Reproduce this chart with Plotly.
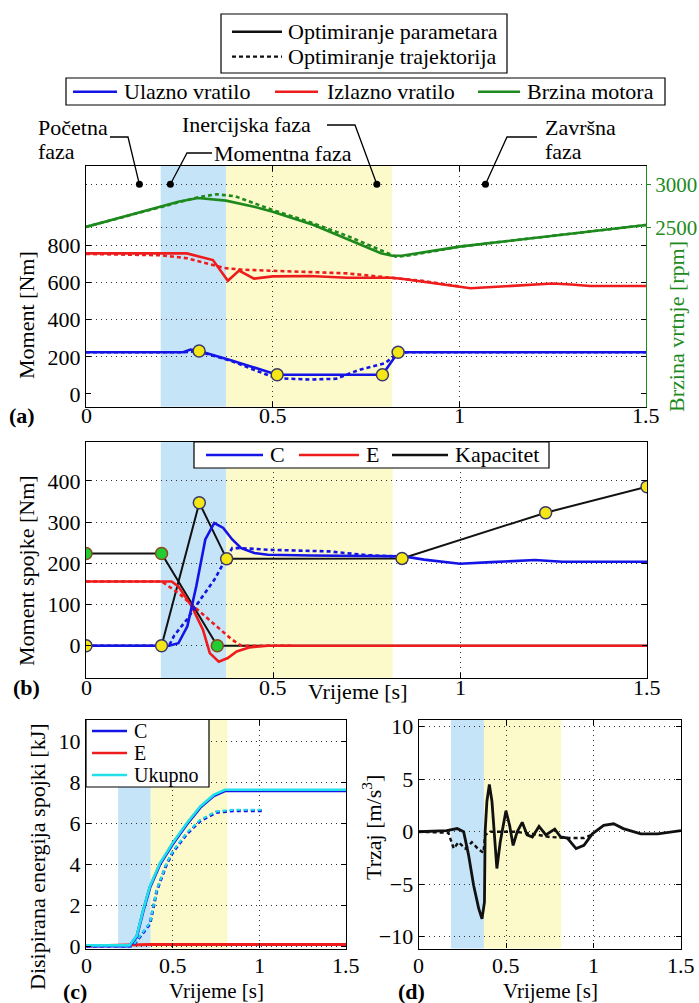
import plotly.graph_objects as go

W, H = 699, 1003
FONT = "Liberation Serif, Times New Roman, DejaVu Serif, serif"
BLUE = "#1414e6"
RED = "#ee1c1c"
GREEN = "#1e8a1e"
CYAN = "#22e0ea"
BLACK = "#111111"
SHADE_BLUE = "rgb(198,228,248)"
SHADE_YEL = "rgb(252,250,202)"
YEL_M = "#f5e616"
GREEN_M = "#22cc33"

# ---------------- data ----------------
x_ticks = [0, 0.5, 1, 1.5]
x_ticktext = ["0", "0.5", "1", "1.5"]
phase_ab = [0.2, 0.375, 0.82]
phase_cd = [0.185, 0.373, 0.815]

# (a) torques [Nm] and engine speed [rpm]
a_blue_t = [0, 0.26, 0.28, 0.303, 0.39, 0.512, 0.6, 0.7, 0.794, 0.836, 1.5]
a_blue_solid = [225, 225, 240, 232, 181, 104, 104, 104, 104, 225, 225]
a_blue_dash_t = [0, 0.26, 0.3, 0.39, 0.45, 0.51, 0.6, 0.67, 0.73, 0.8, 0.83, 0.86, 1.5]
a_blue_dash = [225, 225, 230, 178, 130, 85, 78, 82, 129, 165, 210, 225, 225]
a_red_t = [0, 0.27, 0.34, 0.38, 0.41, 0.45, 0.5, 0.6, 0.7, 0.82, 0.85, 0.95, 1.0, 1.03, 1.1, 1.2, 1.25, 1.3, 1.35, 1.5]
a_red_solid = [758, 758, 722, 610, 665, 622, 634, 636, 627, 627, 620, 590, 578, 570, 578, 591, 596, 590, 582, 582]
a_red_dash_t = [0, 0.2, 0.27, 0.37, 0.42, 0.5, 0.6, 0.7, 0.8, 0.9, 1.0]
a_red_dash = [755, 748, 732, 679, 670, 665, 660, 650, 630, 610, 580]
a_green_t = [0, 0.2, 0.25, 0.3, 0.375, 0.45, 0.5, 0.61, 0.73, 0.79, 0.82, 0.85, 1.0, 1.25, 1.5]
a_green_solid = [2505, 2740, 2800, 2840, 2810, 2740, 2681, 2527, 2314, 2198, 2170, 2172, 2275, 2400, 2527]
a_green_dash_t = [0, 0.2, 0.3, 0.35, 0.4, 0.5, 0.6, 0.7, 0.8, 0.83, 0.87, 1.0, 1.5]
a_green_dash = [2505, 2740, 2850, 2884, 2860, 2701, 2560, 2400, 2220, 2158, 2175, 2275, 2527]
a_marker_t = [0.303, 0.512, 0.794, 0.836]
a_marker_v = [232, 104, 104, 225]
phase_dot_t = [0.143, 0.226, 0.779, 1.07]
phase_dot_rpm = [3000, 3000, 3000, 3000]

# (b) clutch torques [Nm]
b_kapC_t = [0, 0.202, 0.303, 0.376, 0.845, 1.229, 1.5]
b_kapC = [0, 0, 347, 211, 212, 323, 386]
b_kapE_t = [0, 0.202, 0.351, 1.5]
b_kapE = [224, 224, 0, 0]
b_C_t = [0, 0.222, 0.247, 0.271, 0.295, 0.319, 0.343, 0.367, 0.391, 0.415, 0.45, 0.486, 0.6, 0.7, 0.85, 0.904, 1.0, 1.084, 1.2, 1.274, 1.5]
b_C_solid = [0, 0, 6, 47, 145, 258, 298, 286, 258, 237, 225, 221, 219, 218, 217, 209, 199, 203, 208, 204, 204]
b_C_dash_t = [0, 0.222, 0.236, 0.271, 0.307, 0.343, 0.373, 0.391, 0.415, 0.486, 0.65, 0.75, 0.85]
b_C_dash = [0, 0, 25, 65, 114, 160, 209, 237, 237, 233, 229, 220, 216]
b_E_t = [0, 0.229, 0.247, 0.283, 0.313, 0.331, 0.355, 0.379, 0.403, 0.438, 0.486, 1.5]
b_E_solid = [156, 156, 144, 95, 38, -18, -39, -30, -14, -4, 0, 0]
b_E_dash_t = [0, 0.202, 0.247, 0.307, 0.367, 0.39, 0.415, 0.55]
b_E_dash = [156, 156, 128, 80, 31, 15, 0, 0]

# (c) dissipated energy [kJ]
c_t = [0, 0.25, 0.292, 0.33, 0.369, 0.427, 0.5, 0.58, 0.658, 0.735, 0.8, 1.5]
c_C_solid = [0.03, 0.03, 0.48, 1.75, 2.9, 4.02, 5.0, 5.95, 6.77, 7.33, 7.58, 7.58]
c_U_solid = [0.06, 0.06, 0.52, 1.8, 2.95, 4.08, 5.05, 6.0, 6.82, 7.38, 7.63, 7.63]
c_dash_t = [0, 0.27, 0.369, 0.408, 0.465, 0.5, 0.58, 0.658, 0.75, 0.85, 1.02]
c_C_dash = [0.03, 0.03, 1.12, 2.73, 4.03, 4.59, 5.48, 6.12, 6.53, 6.61, 6.61]
c_U_dash = [0.06, 0.06, 1.17, 2.78, 4.08, 4.64, 5.53, 6.17, 6.58, 6.66, 6.66]
c_E_t = [0, 0.2, 0.3, 0.37, 1.5]
c_E_solid = [0.03, 0.06, 0.08, 0.1, 0.1]

# (d) jerk [m/s^3]
d_t = [0, 0.16, 0.22, 0.257, 0.285, 0.314, 0.343, 0.362, 0.376, 0.38, 0.39, 0.404, 0.419, 0.434, 0.447,
       0.466, 0.482, 0.499, 0.52, 0.54, 0.563, 0.592, 0.62, 0.65, 0.688, 0.727, 0.778, 0.812, 0.85, 0.9,
       0.945, 0.993, 1.058, 1.115, 1.17, 1.27, 1.367, 1.5]
d_solid = [0, 0.1, 0.3, 0, -2.2, -5.1, -7.3, -8.3, -6.7, 0, 2.9, 4.5, 2.9, -0.6, -3.5,
           -1.0, 0.6, 2.0, 0.6, -1.3, 0, 0.9, -0.3, -0.5, 0.5, -0.3, 0.25, -0.5, -0.6, -1.6,
           -1.3, -0.2, 0.6, 0.76, 0.3, -0.2, -0.2, 0.1]
d_dash_t = [0, 0.17, 0.2, 0.228, 0.266, 0.304, 0.343, 0.37, 0.38, 0.41, 0.55, 0.65, 0.75, 0.85, 0.945, 1.0]
d_dash = [0, -0.1, -1.6, -1.0, -1.6, -1.0, -1.7, -2.0, -0.3, 0, 0, -0.2, -0.5, -0.6, -0.6, -0.2]


def px(x):
    return x / W


def py(y):
    return 1 - y / H


fig = go.Figure()


def line(x, y, color, xa, ya, dash="solid", width=2.6):
    fig.add_trace(go.Scatter(x=x, y=y, mode="lines", xaxis=xa, yaxis=ya, showlegend=False,
                             line=dict(color=color, width=width, dash=dash), hoverinfo="skip"))


def markers(x, y, fill, edge, xa, ya, size=12):
    fig.add_trace(go.Scatter(x=x, y=y, mode="markers", xaxis=xa, yaxis=ya, showlegend=False,
                             marker=dict(color=fill, size=size, line=dict(color=edge, width=1.5)),
                             hoverinfo="skip"))


DASH = "4px,3px"
# (a)
line(a_red_dash_t, a_red_dash, RED, "x", "y", DASH)
line(a_red_t, a_red_solid, RED, "x", "y")
line(a_blue_dash_t, a_blue_dash, BLUE, "x", "y", DASH)
line(a_blue_t, a_blue_solid, BLUE, "x", "y")
markers(a_marker_t, a_marker_v, YEL_M, "#3a3a6a", "x", "y")
line(a_green_dash_t, a_green_dash, GREEN, "x", "y2", DASH)
line(a_green_t, a_green_solid, GREEN, "x", "y2")
fig.add_trace(go.Scatter(x=phase_dot_t, y=phase_dot_rpm, mode="markers", xaxis="x", yaxis="y2",
                         showlegend=False, marker=dict(color="black", size=7), hoverinfo="skip"))

# (b)
line(b_kapE_t, b_kapE, BLACK, "x2", "y3", width=2)
line(b_kapC_t, b_kapC, BLACK, "x2", "y3", width=2)
line(b_E_dash_t, b_E_dash, RED, "x2", "y3", DASH)
line(b_E_t, b_E_solid, RED, "x2", "y3")
line(b_C_dash_t, b_C_dash, BLUE, "x2", "y3", DASH)
line(b_C_t, b_C_solid, BLUE, "x2", "y3")
markers(b_kapC_t, b_kapC, YEL_M, "#3a3a6a", "x2", "y3")
markers(b_kapE_t[:3], b_kapE[:3], GREEN_M, "#8a4a1a", "x2", "y3")

# (c)
line(c_E_t, c_E_solid, RED, "x3", "y4", width=3)
line(c_dash_t, c_C_dash, BLUE, "x3", "y4", DASH, width=3)
line(c_dash_t, c_U_dash, CYAN, "x3", "y4", DASH, width=2.2)
line(c_t, c_C_solid, BLUE, "x3", "y4", width=3)
line(c_t, c_U_solid, CYAN, "x3", "y4", width=2.6)

# (d)
line(d_dash_t, d_dash, BLACK, "x4", "y5", DASH, width=2.4)
line(d_t, d_solid, BLACK, "x4", "y5", width=2.8)

# ---------------- axes ----------------
TICKFONT = dict(family=FONT, size=22, color="black")


def ax(**kw):
    base = dict(showline=True, linecolor="black", linewidth=1.2, mirror="ticks", ticks="inside",
                ticklen=5, tickcolor="black", showgrid=True, gridcolor="#333333",
                griddash="1px,4px", gridwidth=1, zeroline=False, tickfont=TICKFONT)
    base.update(kw)
    return base


a_x = [px(86), px(646)]
a_y = [py(406.7), py(166)]
b_x = [px(86), px(647)]
b_y = [py(678), py(441.7)]
c_x = [px(86), px(346.4)]
c_y = [py(948.5), py(719.5)]
d_x = [px(418.7), px(681)]
d_y = c_y

# x tick labels are written as annotations (placed on the x axes) to sit tight under the frame
xt = dict(tickmode="array", tickvals=x_ticks, range=[0, 1.5], showticklabels=False)

fig.update_layout(
    xaxis=ax(domain=a_x, anchor="y", **xt),
    yaxis=ax(domain=a_y, anchor="x", range=[-68.5, 1229], tickmode="array",
             tickvals=[0, 200, 400, 600, 800], showgrid=False,
             minor=dict(tickmode="array", tickvals=[200, 400, 600, 800], showgrid=True,
                        gridcolor="#333333", griddash="1px,4px", gridwidth=1, ticks="")),
    yaxis2=dict(domain=a_y, anchor="x", overlaying="y", side="right", range=[414, 3213],
                tickmode="array", tickvals=[2500, 3000], ticks="outside", ticklen=4,
                tickcolor=GREEN, showline=True, linecolor=GREEN, linewidth=1.2,
                showgrid=True, gridcolor="#333333", griddash="1px,4px", gridwidth=1,
                zeroline=False, automargin=False,
                tickfont=dict(family=FONT, size=21, color=GREEN)),
    xaxis2=ax(domain=b_x, anchor="y3", **xt),
    yaxis3=ax(domain=b_y, anchor="x2", range=[-78.4, 495.4], tickmode="array",
              tickvals=[0, 100, 200, 300, 400]),
    xaxis3=ax(domain=c_x, anchor="y4", **xt),
    yaxis4=ax(domain=c_y, anchor="x3", range=[-0.09, 11.05], tickmode="array",
              tickvals=[0, 2, 4, 6, 8, 10]),
    xaxis4=ax(domain=d_x, anchor="y5", **xt),
    yaxis5=ax(domain=d_y, anchor="x4", range=[-11.12, 10.69], tickmode="array",
              tickvals=[-10, -5, 0, 5, 10]),
)

# ---------------- shapes ----------------
shapes = []
for xa, ya, ph in [("x", "y", phase_ab), ("x2", "y3", phase_ab), ("x3", "y4", phase_cd), ("x4", "y5", phase_cd)]:
    shapes.append(dict(type="rect", xref=xa, yref=ya + " domain", x0=ph[0], x1=ph[1], y0=0, y1=1,
                       fillcolor=SHADE_BLUE, line=dict(width=0), layer="below"))
    shapes.append(dict(type="rect", xref=xa, yref=ya + " domain", x0=ph[1], x1=ph[2], y0=0, y1=1,
                       fillcolor=SHADE_YEL, line=dict(width=0), layer="below"))


def seg_path(pts):
    return "M " + " L ".join(f"{px(x):.5f},{py(y):.5f}" for x, y in pts)


# phase leader lines (text -> dot)
dot_px = [86 + t * (646 - 86) / 1.5 for t in phase_dot_t]
dot_py = 184.3
leaders = [
    [(110, 137), (128, 137), (dot_px[0], dot_py)],
    [(212, 153), (187, 153), (dot_px[1], dot_py)],
    [(327, 125), (355, 125), (dot_px[2], dot_py)],
    [(537, 137), (507, 137), (dot_px[3], dot_py)],
]
for pts in leaders:
    shapes.append(dict(type="path", xref="paper", yref="paper", path=seg_path(pts),
                       line=dict(color="black", width=1.3)))


def box(x0, y0, x1, y1):
    shapes.append(dict(type="rect", xref="paper", yref="paper", x0=px(x0), x1=px(x1),
                       y0=py(y1), y1=py(y0), fillcolor="white", line=dict(color="black", width=1.2)))


def sample(x0, x1, y, color, dash="solid", width=2.6):
    shapes.append(dict(type="line", xref="paper", yref="paper", x0=px(x0), x1=px(x1),
                       y0=py(y), y1=py(y), line=dict(color=color, width=width, dash=dash)))


box(221, 14, 507, 73)
sample(232, 282, 31.7, BLACK)
sample(232, 282, 56.7, BLACK, "4px,3px", 2.2)
box(66, 78, 665, 105)
sample(73, 117, 91.7, BLUE)
sample(275, 318, 91.7, RED)
sample(478, 520, 91.7, GREEN)
box(194, 442, 549, 468)
sample(206, 263, 455, BLUE)
sample(299, 359, 455, RED)
sample(392, 448, 455, BLACK)
box(86, 719.5, 209, 787)
sample(92, 127, 731, BLUE)
sample(92, 127, 753, RED)
sample(92, 127, 775, CYAN)

fig.update_layout(shapes=shapes)

# ---------------- texts ----------------
ann = []


def text(s, x, y, anchor="left", size=22, color="black", angle=0, bold=False):
    if bold:
        s = "<b>" + s + "</b>"
    ann.append(dict(text=s, x=px(x), y=py(y), xref="paper", yref="paper", xanchor=anchor,
                    yanchor="middle", showarrow=False, textangle=angle,
                    font=dict(family=FONT, size=size, color=color)))


# x tick labels on each x axis
for xa, ylab in [("x", 415), ("x2", 687), ("x3", 965), ("x4", 965)]:
    for v, s in zip(x_ticks, x_ticktext):
        ann.append(dict(text=s, x=v, y=py(ylab), xref=xa, yref="paper", xanchor="center",
                        yanchor="middle", showarrow=False, font=TICKFONT))

text("Optimiranje parametara", 286, 31.7)
text("Optimiranje trajektorija", 286, 56.7)
text("Ulazno vratilo", 122, 91.7)
text("Izlazno vratilo", 325, 91.7)
text("Brzina motora", 525, 91.7)
text("Početna", 36, 128)
text("faza", 36, 152)
text("Inercijska faza", 180, 125)
text("Momentna faza", 212, 153)
text("Završna", 543, 128)
text("faza", 543, 152)
text("C", 268, 455)
text("E", 364, 455)
text("Kapacitet", 453, 455)
text("C", 132, 731, size=20)
text("E", 132, 753, size=20)
text("Ukupno", 132, 775, size=20)

text("Moment [Nm]", 26, 315, "center", angle=-90)
text("Brzina vrtnje [rpm]", 676, 327, "center", color=GREEN, angle=-90)
text("Moment spojke [Nm]", 26, 571, "center", angle=-90)
text("Vrijeme [s]", 358, 691, "center")
text("Disipirana energija spojki [kJ]", 37, 857, "center", angle=-90)
text("Trzaj [m/s<sup>3</sup>]", 372, 828, "center", angle=-90)
text("Vrijeme [s]", 216, 991, "center", size=21)
text("Vrijeme [s]", 550, 991, "center", size=21)
text("(a)", 22, 415, "center", bold=True)
text("(b)", 26, 687, "center", bold=True)
text("(c)", 75, 991, "center", bold=True)
text("(d)", 412, 991, "center", bold=True)

fig.update_layout(
    annotations=ann,
    width=W, height=H, autosize=False,
    margin=dict(l=0, r=0, t=0, b=0, pad=0, autoexpand=False),
    paper_bgcolor="white", plot_bgcolor="white",
    font=dict(family=FONT, size=22, color="black"),
    showlegend=False,
)

# remove the default page margin so the 699x1003 figure fills the window exactly
fig.write_html(
    "out.html",
    config={"displayModeBar": False},
    post_script="document.body.style.margin='0';document.body.style.padding='0';"
                "document.documentElement.style.overflow='hidden';",
)
